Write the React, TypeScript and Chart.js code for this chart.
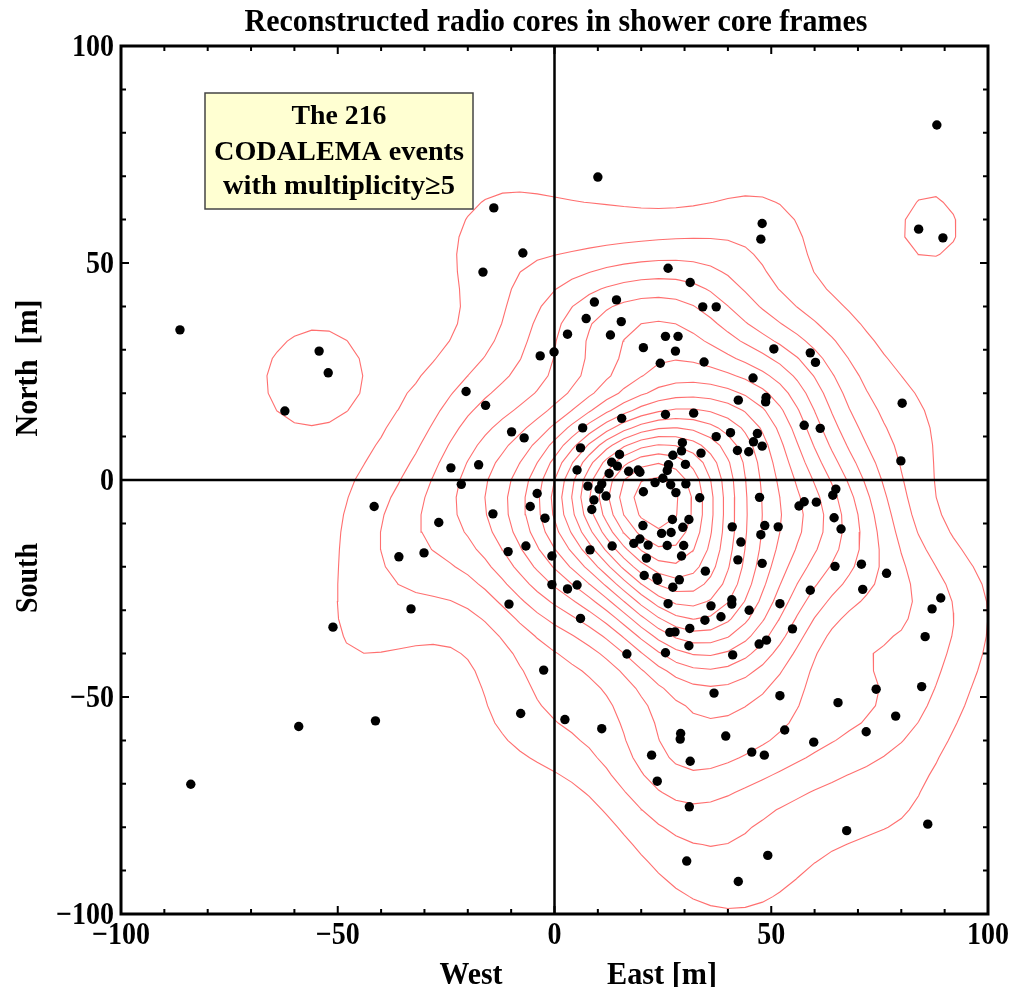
import React, { useEffect, useRef } from "react";
import { Chart, registerables } from "chart.js";

Chart.register(...registerables);

const TITLE = "Reconstructed radio cores in shower core frames";
const NOTE_LINES = ["The 216", "CODALEMA events", "with multiplicity\u22655"];
const X_TITLE_WEST = "West";
const X_TITLE_EAST = "East [m]";
const Y_TITLE_NORTH = "North  [m]";
const Y_TITLE_SOUTH = "South";
const AXIS_MIN = -100;
const AXIS_MAX = 100;
const TICK_VALUES = [-100, -50, 0, 50, 100];
const MINOR_STEP = 10;

// Reconstructed radio core positions (m), east and north of the shower core
const EAST = [
  88.2, 10.0, -14.0, -7.3, -16.5, -86.4, -54.3, -52.2, -62.2, 84.0,
  89.6, 47.9, 47.6, 26.2, 31.3, 34.2, 37.3, 9.2, 14.3, 7.3,
  15.4, 12.9, 3.0, 25.6, 28.5, 20.5, 27.9, 24.4, 34.5, -0.1,
  -3.3, 50.6, 59.0, 60.2, 45.8, 42.4, 48.8, 48.7, 80.2, -20.4,
  -15.9, -9.9, -7.0, -23.9, -17.5, -21.5, 6.5, 15.5, 25.6, 32.1,
  6.0, 29.5, 29.3, 33.8, 15.0, 13.2, 14.5, 12.6, 5.2, 17.1,
  19.3, 19.7, 27.3, 26.3, 26.0, 30.2, 25.0, 23.2, 26.8, 30.3,
  28.0, 20.5, 7.7, 10.9, 10.3, 11.9, 9.1, 8.6, 33.5, -4.0,
  -5.6, -2.2, -14.2, -26.7, -30.1, -10.7, -6.6, -0.6, 8.2, 13.3,
  20.4, 27.2, 31.0, 24.7, 26.9, 29.6, 18.3, 19.7, 21.6, 26.0,
  29.8, 29.3, 21.2, 20.7, 23.6, 23.8, 28.8, 27.3, 34.8, 5.2,
  3.0, -0.6, -10.5, 6.0, 26.2, 26.6, 27.8, 31.2, -41.6, -35.9,
  -33.1, -51.1, -41.3, -59.0, -83.9, 57.6, 61.3, 37.3, 40.6, 46.8,
  45.9, 47.9, 42.2, 44.8, 79.9, 64.9, 64.2, 47.3, 56.4, 57.6,
  60.4, 64.5, 66.1, 41.0, 48.5, 47.6, 51.6, 43.0, 42.3, 47.9,
  64.7, 70.8, 76.6, 71.1, 59.0, 89.1, 87.1, 36.1, 40.9, 40.9,
  44.9, 52.0, 38.4, 34.7, 54.9, 31.0, 16.7, 25.6, -2.5, -7.8,
  2.4, 10.9, 29.1, 29.0, 22.4, 31.3, 23.7, 31.1, 30.5, 47.2,
  48.9, 41.1, 85.5, 36.8, 52.0, 65.4, 74.2, 84.7, 78.7, 71.9,
  53.1, 59.8, 39.5, 45.5, 48.4, 67.4, 86.1, 49.2, 42.4,
];
const NORTH = [
  81.8, 69.8, 62.7, 52.3, 47.9, 34.6, 29.7, 24.7, 15.9, 57.8,
  55.8, 59.1, 55.5, 48.8, 45.5, 39.9, 39.9, 41.0, 41.5, 37.2,
  36.5, 33.4, 33.6, 33.1, 33.1, 30.5, 29.7, 26.9, 27.2, 29.5,
  28.6, 30.2, 29.3, 27.1, 23.5, 18.4, 19.0, 18.0, 17.7, 20.4,
  17.2, 11.1, 9.7, 2.8, 3.5, -1.0, 12.0, 14.2, 15.1, 15.4,
  7.4, 8.6, 6.7, 6.2, 5.9, 4.1, 3.2, 1.5, 2.3, 2.0,
  2.3, 1.8, 5.7, 3.5, 2.2, 3.6, 0.4, -0.6, -1.1, -0.9,
  -2.9, -2.7, -1.4, -0.9, -2.1, -3.7, -4.6, -6.8, -4.1, -3.1,
  -6.1, -8.8, -7.8, -9.8, -16.8, -16.5, -15.2, -17.5, -16.1, -15.2,
  -10.5, -9.1, -9.1, -12.3, -12.1, -10.9, -14.6, -13.6, -15.0, -15.1,
  -15.1, -17.5, -18.0, -22.0, -22.5, -23.1, -23.0, -24.7, -21.0, -24.2,
  -25.1, -24.1, -28.6, -31.9, -28.5, -35.1, -35.0, -34.2, -6.1, -17.7,
  -29.7, -33.9, -55.5, -56.8, -70.1, 12.6, 11.9, 10.0, 10.9, 10.7,
  8.8, 7.8, 6.8, 6.5, 4.4, -2.1, -3.5, -4.0, -6.0, -5.0,
  -5.1, -8.7, -11.3, -10.8, -10.5, -12.6, -10.8, -14.3, -18.4, -19.2,
  -19.9, -19.4, -21.5, -25.2, -25.4, -27.2, -29.7, -29.0, -27.6, -28.6,
  -30.0, -28.5, -31.5, -32.3, -34.3, -38.2, -40.1, -39.8, -43.8, -53.8,
  -55.2, -57.3, -58.4, -59.7, -63.4, -64.8, -69.4, -75.3, -87.8, -37.8,
  -36.9, -40.3, -36.1, -49.1, -49.7, -51.3, -48.2, -47.6, -54.4, -58.0,
  -57.6, -60.4, -59.0, -62.7, -63.4, -80.8, -79.3, -86.5, -92.5,
];

// Smooth density of the cores (Gaussian kernel), contoured at equal steps
const KDE_BANDWIDTH = 11;
const CONTOUR_STEP = 1.75;
const GRID_STEP = 4;

type Pt = { x: number; y: number };

function buildDensity() {
  const xs: number[] = [];
  for (let v = AXIS_MIN; v <= AXIS_MAX + 1e-9; v += GRID_STEP) xs.push(v);
  const ys = xs.slice();
  const inv = 1 / (2 * KDE_BANDWIDTH * KDE_BANDWIDTH);
  const grid = ys.map((y) =>
    xs.map((x) => {
      let s = 0;
      for (let k = 0; k < EAST.length; k++) {
        const dx = x - EAST[k];
        const dy = y - NORTH[k];
        s += Math.exp(-(dx * dx + dy * dy) * inv);
      }
      return s;
    })
  );
  return { xs, ys, grid };
}

function contourLines(xs: number[], ys: number[], g: number[][], L: number): Pt[][] {
  const pos = new Map<string, Pt>();
  const adj = new Map<string, string[]>();
  const ep = (id: string, x0: number, y0: number, v0: number, x1: number, y1: number, v1: number) => {
    if (!pos.has(id)) {
      const t = (L - v0) / (v1 - v0);
      pos.set(id, { x: x0 + t * (x1 - x0), y: y0 + t * (y1 - y0) });
    }
    return id;
  };
  const add = (a: string, b: string) => {
    if (!adj.has(a)) adj.set(a, []);
    if (!adj.has(b)) adj.set(b, []);
    adj.get(a)!.push(b);
    adj.get(b)!.push(a);
  };
  for (let j = 0; j < ys.length - 1; j++) {
    for (let i = 0; i < xs.length - 1; i++) {
      const v0 = g[j][i], v1 = g[j][i + 1], v2 = g[j + 1][i + 1], v3 = g[j + 1][i];
      const a0 = v0 > L, a1 = v1 > L, a2 = v2 > L, a3 = v3 > L;
      const B = a0 !== a1 ? ep(`h${i},${j}`, xs[i], ys[j], v0, xs[i + 1], ys[j], v1) : null;
      const R = a1 !== a2 ? ep(`v${i + 1},${j}`, xs[i + 1], ys[j], v1, xs[i + 1], ys[j + 1], v2) : null;
      const T = a3 !== a2 ? ep(`h${i},${j + 1}`, xs[i], ys[j + 1], v3, xs[i + 1], ys[j + 1], v2) : null;
      const Lf = a0 !== a3 ? ep(`v${i},${j}`, xs[i], ys[j], v0, xs[i], ys[j + 1], v3) : null;
      const cr = [B, R, T, Lf].filter((e) => e !== null) as string[];
      if (cr.length === 2) add(cr[0], cr[1]);
      else if (cr.length === 4) {
        const c = (v0 + v1 + v2 + v3) / 4 > L;
        if (a0) {
          if (c) { add(B!, R!); add(T!, Lf!); } else { add(B!, Lf!); add(R!, T!); }
        } else {
          if (c) { add(B!, Lf!); add(R!, T!); } else { add(B!, R!); add(T!, Lf!); }
        }
      }
    }
  }
  const used = new Set<string>();
  const walk = (start: string) => {
    const ids = [start];
    used.add(start);
    let cur = start;
    for (;;) {
      const nb = (adj.get(cur) || []).find((n) => !used.has(n));
      if (!nb) break;
      used.add(nb);
      ids.push(nb);
      cur = nb;
    }
    return ids;
  };
  const lines: string[][] = [];
  adj.forEach((nbs, id) => {
    if (nbs.length === 1 && !used.has(id)) lines.push(walk(id));
  });
  adj.forEach((_nbs, id) => {
    if (!used.has(id)) {
      const ids = walk(id);
      ids.push(id);
      lines.push(ids);
    }
  });
  return lines.map((l) => l.map((id) => pos.get(id)!));
}

const FONT = '"Liberation Serif", "Times New Roman", serif';
const TEXT_SY = 1.12;

function drawText(
  ctx: CanvasRenderingContext2D, s: string, x: number, y: number, size: number,
  align: CanvasTextAlign, sx: number, sy: number, rot = 0
) {
  ctx.save();
  ctx.translate(x, y);
  if (rot) ctx.rotate(rot);
  ctx.scale(sx, sy);
  ctx.font = `bold ${size}px ${FONT}`;
  ctx.textAlign = align;
  ctx.textBaseline = "alphabetic";
  ctx.fillStyle = "#000";
  ctx.fillText(s, 0, 0);
  ctx.restore();
}

function drawFit(
  ctx: CanvasRenderingContext2D, s: string, cx: number, y: number, size: number,
  width: number, sy: number, rot = 0
) {
  ctx.save();
  ctx.font = `bold ${size}px ${FONT}`;
  const w = ctx.measureText(s).width;
  ctx.restore();
  drawText(ctx, s, cx, y, size, "center", width / w, sy, rot);
}

const framePlugin = {
  id: "framePlugin",
  beforeDatasetDraw(chart: any, args: any) {
    if (args.index !== 0) return;
    const { ctx, chartArea: a, scales } = chart;
    const x0 = scales.x.getPixelForValue(0);
    const y0 = scales.y.getPixelForValue(0);
    ctx.save();
    ctx.strokeStyle = "#000";
    ctx.lineWidth = 2.5;
    ctx.beginPath();
    ctx.moveTo(x0, a.top);
    ctx.lineTo(x0, a.bottom);
    ctx.moveTo(a.left, y0);
    ctx.lineTo(a.right, y0);
    ctx.stroke();
    ctx.restore();
  },
  afterDraw(chart: any) {
    const { ctx, chartArea: a, scales } = chart;
    const sx = scales.x;
    const sy = scales.y;
    ctx.save();
    // inward tick marks on all four sides
    ctx.strokeStyle = "#000";
    ctx.lineWidth = 2;
    ctx.beginPath();
    for (let v = AXIS_MIN + MINOR_STEP; v < AXIS_MAX; v += MINOR_STEP) {
      const len = v % 50 === 0 ? 8 : 5;
      const px = sx.getPixelForValue(v);
      const py = sy.getPixelForValue(v);
      ctx.moveTo(px, a.bottom); ctx.lineTo(px, a.bottom - len);
      ctx.moveTo(px, a.top); ctx.lineTo(px, a.top + len);
      ctx.moveTo(a.left, py); ctx.lineTo(a.left + len, py);
      ctx.moveTo(a.right, py); ctx.lineTo(a.right - len, py);
    }
    ctx.stroke();
    // frame
    ctx.lineWidth = 3;
    ctx.strokeRect(a.left, a.top, a.right - a.left, a.bottom - a.top);

    // tick labels
    const lab = (v: number) => (v < 0 ? "\u2212" + Math.abs(v) : String(v));
    TICK_VALUES.forEach((v) => {
      drawText(ctx, lab(v), sx.getPixelForValue(v), a.bottom + 30, 28, "center", 1, TEXT_SY);
      drawText(ctx, lab(v), a.left - 7, sy.getPixelForValue(v) + 10, 28, "right", 1, TEXT_SY);
    });

    // axis titles
    drawFit(ctx, X_TITLE_WEST, 471, 984, 28, 63, TEXT_SY);
    drawFit(ctx, X_TITLE_EAST, 662, 984, 28, 110, TEXT_SY);
    drawFit(ctx, Y_TITLE_NORTH, 37, 368, 28, 137, TEXT_SY, -Math.PI / 2);
    drawFit(ctx, Y_TITLE_SOUTH, 37, 578, 28, 70, TEXT_SY, -Math.PI / 2);

    // title
    drawFit(ctx, TITLE, 556, 31, 29, 623, 1.12);

    // note box
    ctx.fillStyle = "#FFFFD2";
    ctx.fillRect(205, 93, 268, 116);
    ctx.strokeStyle = "#444";
    ctx.lineWidth = 1.5;
    ctx.strokeRect(205, 93, 268, 116);
    drawFit(ctx, NOTE_LINES[0], 339, 124, 28, 95, 1);
    drawFit(ctx, NOTE_LINES[1], 339, 160, 28, 250, 1);
    drawFit(ctx, NOTE_LINES[2], 339, 194, 28, 232, 1);
    ctx.restore();
  },
};

export default function App() {
  const ref = useRef<HTMLCanvasElement | null>(null);
  useEffect(() => {
    document.body.style.margin = "0";
    const canvas = ref.current!;
    const { xs, ys, grid } = buildDensity();
    let peak = 0;
    grid.forEach((r) => r.forEach((v) => { if (v > peak) peak = v; }));
    const contourSets: any[] = [];
    for (let k = 1; k * CONTOUR_STEP < peak; k++) {
      contourLines(xs, ys, grid, k * CONTOUR_STEP).forEach((line) => {
        contourSets.push({
          data: line,
          showLine: true,
          pointRadius: 0,
          borderColor: "rgba(255, 95, 95, 0.9)",
          borderWidth: 1.1,
          fill: false,
          tension: 0,
          order: 1,
        });
      });
    }
    const chart = new Chart(canvas, {
      type: "scatter",
      data: {
        datasets: [
          {
            data: EAST.map((x, i) => ({ x, y: NORTH[i] })),
            pointRadius: 4.7,
            pointBackgroundColor: "#000",
            pointBorderWidth: 0,
            order: 0,
          } as any,
          ...contourSets,
        ],
      },
      options: {
        animation: false,
        responsive: false,
        devicePixelRatio: 1,
        layout: { padding: { top: 46, right: 26, left: 0, bottom: 0 } },
        plugins: { legend: { display: false }, tooltip: { enabled: false } },
        scales: {
          x: {
            type: "linear", min: AXIS_MIN, max: AXIS_MAX,
            ticks: { display: false }, grid: { display: false }, border: { display: false },
            afterFit: (s: any) => { s.height = 73; },
          },
          y: {
            type: "linear", min: AXIS_MIN, max: AXIS_MAX,
            ticks: { display: false }, grid: { display: false }, border: { display: false },
            afterFit: (s: any) => { s.width = 121; },
          },
        },
      } as any,
      plugins: [framePlugin],
    });
    return () => chart.destroy();
  }, []);
  return (
    <div style={{ position: "absolute", left: 0, top: 0, width: 1014, height: 987, background: "#fff" }}>
      <canvas ref={ref} width={1014} height={987} style={{ display: "block" }} />
    </div>
  );
}
